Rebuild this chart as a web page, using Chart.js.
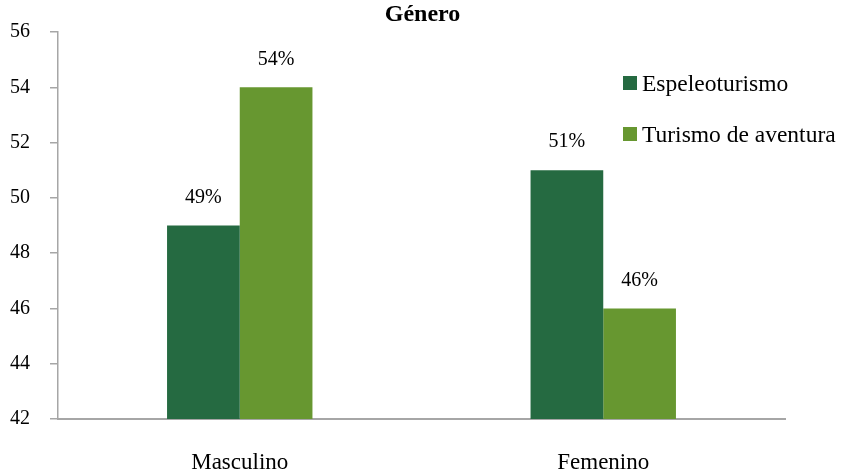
<!DOCTYPE html>
<html>
<head>
<meta charset="utf-8">
<script src="https://cdn.jsdelivr.net/npm/chart.js@4.4.0/dist/chart.umd.min.js"></script>
<style>
  html, body { margin: 0; padding: 0; background: #fff; }
  #wrap { width: 845px; height: 469px; }
</style>
</head>
<body>
<div id="wrap"><canvas id="chartGenero"></canvas></div>
<script>
const categorias = ['Masculino', 'Femenino'];
const espeleoturismo = [49, 51];
const turismoAventura = [54, 46];
const rotulos = ['Espeleoturismo', 'Turismo de aventura'];
const titulo = 'Género';

const fonte = '"Liberation Serif", "Times New Roman", serif';
const cinza = '#a6a6a6';

// rotulos de valor acima das barras
const rotuloBarras = {
    id: 'rotuloBarras',
    afterDatasetsDraw(chart) {
        const ctx = chart.ctx;
        ctx.save();
        ctx.font = '20px ' + fonte;
        ctx.fillStyle = '#000';
        ctx.textAlign = 'center';
        ctx.textBaseline = 'middle';
        chart.data.datasets.forEach((ds, i) => {
            chart.getDatasetMeta(i).data.forEach((bar, j) => {
                ctx.fillText(ds.data[j] + '%', bar.x, bar.y - 28);
            });
        });
        ctx.restore();
    }
};

// titulo centrado na largura toda + legenda dentro da area do grafico
const tituloLegenda = {
    id: 'tituloLegenda',
    afterDraw(chart) {
        const ctx = chart.ctx;
        ctx.save();
        ctx.fillStyle = '#000';
        ctx.textAlign = 'center';
        ctx.textBaseline = 'middle';
        ctx.font = 'bold 24px ' + fonte;
        ctx.fillText(titulo, chart.width / 2, 15);

        ctx.textAlign = 'left';
        ctx.font = '23.5px ' + fonte;
        chart.data.datasets.forEach((ds, i) => {
            const y = 83 + i * 51;
            ctx.fillStyle = ds.backgroundColor;
            ctx.fillRect(623, y - 7, 14, 14);
            ctx.fillStyle = '#000';
            ctx.fillText(ds.label, 642, y + 2);
        });
        ctx.restore();
    }
};

new Chart(document.getElementById('chartGenero').getContext('2d'), {
    type: 'bar',
    data: {
        labels: categorias,
        datasets: [{
            label: rotulos[0],
            data: espeleoturismo,
            backgroundColor: '#256a41'
        }, {
            label: rotulos[1],
            data: turismoAventura,
            backgroundColor: '#679730'
        }]
    },
    options: {
        responsive: true,
        maintainAspectRatio: false,
        animation: false,
        categoryPercentage: 0.4,
        barPercentage: 1.0,
        layout: { padding: { top: 31, right: 60, left: 0, bottom: 0 } },
        plugins: {
            legend: { display: false },
            tooltip: { enabled: false },
            title: { display: false }
        },
        scales: {
            x: {
                afterFit: s => { s.height = 50; },
                grid: { display: false },
                border: { display: true, color: cinza, width: 2 },
                ticks: { color: '#000', font: { family: fonte, size: 23 }, padding: 22 }
            },
            y: {
                min: 42,
                max: 56,
                afterFit: s => { s.width = 58; },
                grid: { drawOnChartArea: false, drawTicks: true, tickLength: 8, color: cinza, lineWidth: 1.5 },
                border: { display: true, color: cinza, width: 1.5 },
                ticks: { stepSize: 2, color: '#000', font: { family: fonte, size: 20 }, padding: 20 }
            }
        }
    },
    plugins: [rotuloBarras, tituloLegenda]
});
</script>
</body>
</html>
